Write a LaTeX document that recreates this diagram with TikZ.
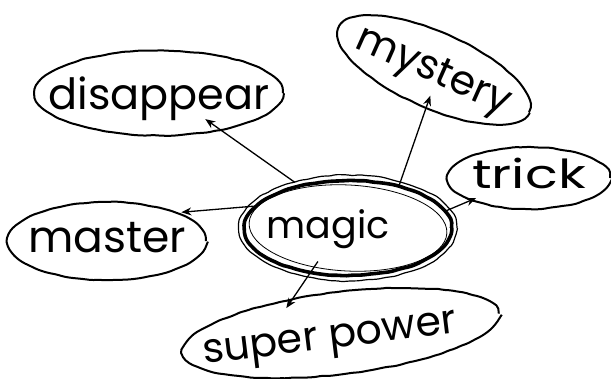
\documentclass[tikz,border=0pt]{standalone}
\usepackage{fontspec}
\usepackage{graphicx}
\setmainfont{Poppins}
\usetikzlibrary{shapes.geometric,arrows.meta,decorations.pathmorphing}
\newcommand\fs[1]{\fontsize{#1}{#1}\selectfont}
\newcommand\tx[2]{\makebox[0pt]{\raisebox{-#1}[0pt][0pt]{#2}}}
\begin{document}
\begin{tikzpicture}[x=1pt,y=-1pt,
  bubble/.style={ellipse,draw=black,line width=2pt,inner sep=0pt,
    decorate,decoration={random steps,segment length=7pt,amplitude=0.5pt},rounded corners=2pt},
  link/.style={line width=1.3pt,-{Stealth[length=10pt,width=8pt]}}]
\useasboundingbox (0,0) rectangle (611,378);
\node[bubble,minimum width=248pt,minimum height=85pt,font=\fs{43}] (dis) at (159,93) {\tx{16pt}{disappear}};
\node[bubble,minimum width=208pt,minimum height=76pt,rotate=-24,font=\fs{41}] (mys) at (434,70) {\tx{12pt}{mystery}};
\node[bubble,minimum width=162pt,minimum height=62pt,font=\fs{40}] (tri) at (529,178) {\tx{10pt}{\scalebox{1.35}[1]{trick}}};
\node[bubble,minimum width=198pt,minimum height=78pt,font=\fs{44}] (mas) at (107,241) {\tx{11pt}{master}};
\node[bubble,minimum width=318pt,minimum height=82pt,rotate=7,font=\fs{41}] (sup) at (341,333) {\tx{14pt}{\kern-24pt super power}};
\node[bubble,line width=3.6pt,minimum width=207pt,minimum height=95pt,font=\fs{38}] (mag) at (348,228) {\tx{10pt}{\kern-40pt magic}};
\draw[line width=1.2pt,decorate,decoration={random steps,segment length=6pt,amplitude=0.8pt},rounded corners=2pt]
  (mag.center) ellipse [x radius=109pt,y radius=53pt];
\draw[line width=0.8pt,rotate around={-3:(mag.center)}] (mag.center) ellipse [x radius=99pt,y radius=43pt];
\draw[link,shorten <=4pt,shorten >=-20pt] (mag.139) -- (dis.-31);
\draw[link,shorten >=-14pt] (mag.40) -- (mys.-78);
\draw[link,shorten >=-6pt] (mag.10) -- (tri.-159);
\draw[link,shorten >=4pt] (mag.167) -- (mas.22);
\draw[link,shorten <=-15pt,shorten >=-12pt] (mag.-130) -- (sup.137);
\end{tikzpicture}
\end{document}
